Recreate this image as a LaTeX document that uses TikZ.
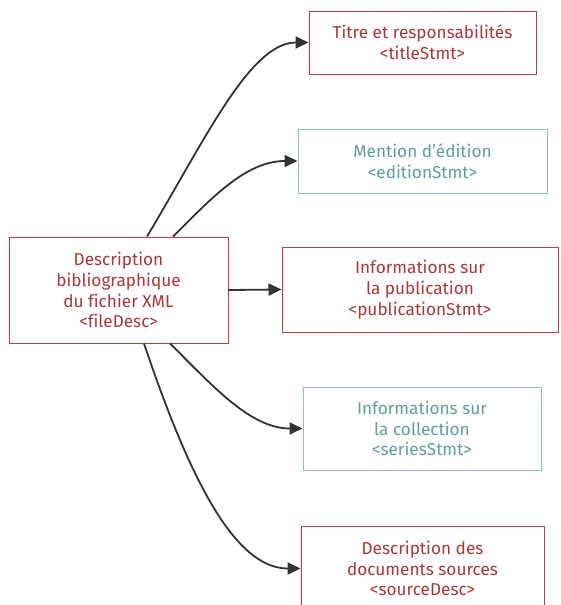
\documentclass[tikz,border=0pt]{standalone}
\usepackage{fontspec}
\setmainfont[Ligatures=NoCommon]{Fira Sans}
\usetikzlibrary{arrows.meta}

\definecolor{redtxt}{HTML}{A83838}
\definecolor{redline}{HTML}{B84444}
\definecolor{tealtxt}{HTML}{5F9E9E}
\definecolor{tealline}{HTML}{8CBFBF}
\definecolor{arrowgray}{HTML}{333333}

\tikzset{
  redbox/.style = {draw=redline, text=redtxt, line width=1pt, align=center,
    inner sep=0pt, font=\fontsize{17.2}{20.8}\selectfont},
  tealbox/.style = {draw=tealline, text=tealtxt, line width=1pt, align=center,
    inner sep=0pt, font=\fontsize{17.2}{20.8}\selectfont},
  link/.style = {draw=arrowgray, line width=1.8pt,
    -{Triangle[length=13pt, width=12pt]}}
}

\begin{document}
\begin{tikzpicture}[x=1pt, y=-1pt]
    \useasboundingbox (0,0) rectangle (560,605);

    % main box
    \node[redbox, minimum width=219pt, minimum height=106pt] (file) at (118.5,290)
      {Description\\bibliographique\\du fichier XML\\<fileDesc>};

    % children
    \node[redbox, minimum width=227pt, minimum height=63pt] (title) at (422.5,42.5)
      {Titre et responsabilités\\<titleStmt>};
    \node[tealbox, minimum width=249pt, minimum height=64pt] (edition) at (422.5,161)
      {Mention d’édition\\<editionStmt>};
    \node[redbox, minimum width=276pt, minimum height=85pt] (publication) at (420,289.5)
      {Informations sur\\la publication\\<publicationStmt>};
    \node[tealbox, minimum width=238pt, minimum height=83pt] (series) at (422,428.5)
      {Informations sur\\la collection\\<seriesStmt>};
    \node[redbox, minimum width=243pt, minimum height=85pt] (source) at (422.5,568.5)
      {Description des\\documents sources\\<sourceDesc>};

    % connectors
    \draw[link] ([xshift=28.5pt]file.north) .. controls (205,140) and (250,42.5) .. (title.west);
    \draw[link] ([xshift=54.5pt]file.north) .. controls (210,200) and (245,161) .. (edition.west);
    \draw[link] (file.east) -- (publication.west);
    \draw[link] ([xshift=51.5pt]file.south) .. controls (212,385) and (250,428.5) .. (series.west);
    \draw[link] ([xshift=25.5pt]file.south) .. controls (190,480) and (235,568.5) .. (source.west);
\end{tikzpicture}
\end{document}
